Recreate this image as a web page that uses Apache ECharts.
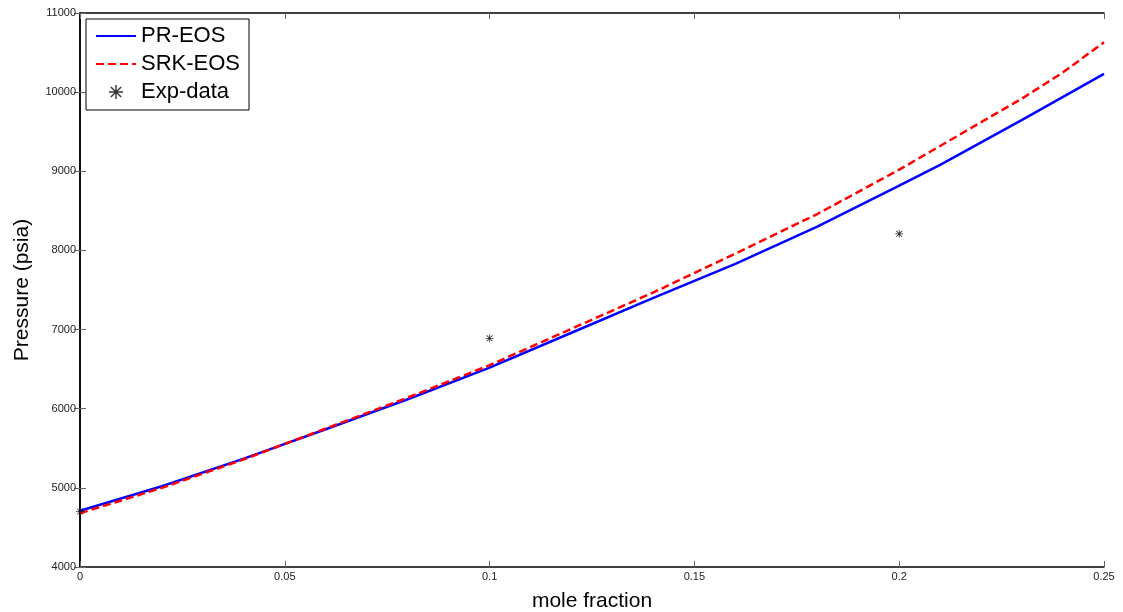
<!DOCTYPE html>
<html>
<head>
<meta charset="utf-8">
<script src="https://cdn.jsdelivr.net/npm/echarts@6/dist/echarts.min.js"></script>
<style>
  html, body { margin: 0; padding: 0; background: #fff; }
  #chart { width: 1123px; height: 612px; }
</style>
</head>
<body>
<div id="chart"></div>
<script>
// mole fraction values and pressures (psia)
const prX = [0, 0.02, 0.04, 0.06, 0.08, 0.10, 0.12, 0.14, 0.16, 0.18, 0.20, 0.21, 0.23, 0.25];
const prY = [4710, 5020, 5370, 5740, 6120, 6520, 6960, 7400, 7830, 8300, 8820, 9080, 9650, 10230];
const srkX = [0, 0.02, 0.04, 0.06, 0.08, 0.10, 0.12, 0.14, 0.16, 0.18, 0.20, 0.21, 0.23, 0.24, 0.25];
const srkY = [4680, 5000, 5360, 5750, 6140, 6550, 7010, 7470, 7960, 8460, 9020, 9320, 9920, 10250, 10630];
const expX = [0, 0.1, 0.2];
const expY = [4700, 6890, 8210];

const xTicks = [0, 0.05, 0.1, 0.15, 0.2, 0.25];
const yTicks = [4000, 5000, 6000, 7000, 8000, 9000, 10000, 11000];

// asterisk marker like matlab '*'
const asterisk = 'path://M0 4.5L10 4.5L10 5.5L0 5.5Z M4.5 0L5.5 0L5.5 10L4.5 10Z M1 1.7L1.7 1L9 8.3L8.3 9Z M8.3 1L9 1.7L1.7 9L1 8.3Z';

function pairs(xs, ys) {
  return xs.map((x, i) => [x, ys[i]]);
}

const chart = echarts.init(document.getElementById('chart'));
const font = 'Arial, "Liberation Sans", sans-serif';

const tickStyle = {
  show: true,
  inside: true,
  length: 6,
  lineStyle: {color: '#666', width: 1}
};

chart.setOption({
  animation: false,
  backgroundColor: '#fff',
  grid: {left: 80, right: 19, top: 13, bottom: 45, containLabel: false, outerBoundsMode: 'none'},
  legend: {
    orient: 'vertical',
    left: 86,
    top: 19,
    padding: [6, 9, 7, 9],
    itemWidth: 40,
    itemHeight: 14,
    itemGap: 6,
    borderColor: '#000',
    borderWidth: 1,
    backgroundColor: '#fff',
    textStyle: {fontFamily: font, fontSize: 22, color: '#000'},
    data: [
      {name: 'PR-EOS', itemStyle: {opacity: 0}},
      {name: 'SRK-EOS', itemStyle: {opacity: 0}},
      {name: 'Exp-data', itemStyle: {color: '#000'}}
    ]
  },
  xAxis: [{
    type: 'value',
    min: 0,
    max: 0.25,
    interval: 0.05,
    name: 'mole fraction',
    nameLocation: 'middle',
    nameGap: 24,
    nameTextStyle: {fontFamily: font, fontSize: 21, color: '#000'},
    axisLine: {lineStyle: {color: '#000', width: 1.5}},
    axisTick: tickStyle,
    splitLine: {show: false},
    axisLabel: {
      fontFamily: font, fontSize: 11, color: '#222', margin: 4,
      formatter: v => xTicks.indexOf(v) >= 0 ? String(v) : ''
    }
  }, {
    type: 'value',
    position: 'top',
    min: 0,
    max: 0.25,
    interval: 0.05,
    axisLine: {lineStyle: {color: '#000', width: 1.5}},
    axisTick: tickStyle,
    axisLabel: {show: false},
    splitLine: {show: false}
  }],
  yAxis: [{
    type: 'value',
    min: 4000,
    max: 11000,
    interval: 1000,
    name: 'Pressure (psia)',
    nameLocation: 'middle',
    nameGap: 47,
    nameTextStyle: {fontFamily: font, fontSize: 21, color: '#000'},
    axisLine: {show: true, lineStyle: {color: '#000', width: 1.5}},
    axisTick: tickStyle,
    splitLine: {show: false},
    axisLabel: {
      fontFamily: font, fontSize: 11, color: '#222', margin: 4,
      formatter: v => yTicks.indexOf(v) >= 0 ? String(v) : ''
    }
  }, {
    type: 'value',
    position: 'right',
    min: 4000,
    max: 11000,
    interval: 1000,
    axisLine: {show: true, lineStyle: {color: '#000', width: 1.5}},
    axisTick: tickStyle,
    axisLabel: {show: false},
    splitLine: {show: false}
  }],
  series: [
    {
      name: 'PR-EOS',
      type: 'line',
      data: pairs(prX, prY),
      showSymbol: false,
      symbol: 'none',
      lineStyle: {color: '#0000ff', width: 2.5},
      itemStyle: {color: '#0000ff'},
      z: 2
    },
    {
      name: 'SRK-EOS',
      type: 'line',
      data: pairs(srkX, srkY),
      showSymbol: false,
      symbol: 'none',
      lineStyle: {color: '#ff0000', width: 2.5, type: [8, 4]},
      itemStyle: {color: '#ff0000'},
      z: 3
    },
    {
      name: 'Exp-data',
      type: 'scatter',
      data: pairs(expX, expY),
      symbol: asterisk,
      symbolSize: 8,
      itemStyle: {color: '#000'},
      z: 4
    }
  ]
});
</script>
</body>
</html>
